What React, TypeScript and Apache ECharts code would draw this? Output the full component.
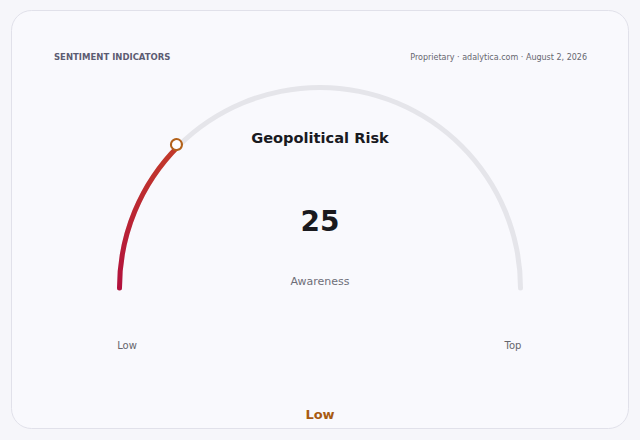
import React, { useEffect, useRef } from "react";
import * as echarts from "echarts";

const headerLeft = "SENTIMENT INDICATORS";
const headerRight = "Proprietary · adalytica.com · August 2, 2026";
const gaugeName = "Geopolitical Risk";
const gaugeValue = [25];
const gaugeMin = 0;
const gaugeMax = 100;
const endLabels = ["Low", "Top"];
const subLabel = "Awareness";
const levelLabel = "Low";

const FONT = "DejaVu Sans, sans-serif";

export default function App() {
  const ref = useRef<HTMLDivElement>(null);
  useEffect(() => {
    if (!ref.current) return;
    const chart = echarts.init(ref.current, undefined, { renderer: "svg" });
    const cx = 320;
    const cy = 288;
    const r = 203;
    const hidden = {
      axisLine: { show: false },
      axisTick: { show: false },
      splitLine: { show: false },
      axisLabel: { show: false },
      anchor: { show: false },
    };
    chart.setOption({
      animation: false,
      backgroundColor: "#f6f6fa",
      graphic: [
        {
          type: "rect",
          z: -10,
          shape: { x: 11.5, y: 10.5, width: 617, height: 418, r: 20 },
          style: { fill: "#f9f9fd", stroke: "#e1e1ea", lineWidth: 1 },
        },
        {
          type: "text",
          x: 54,
          y: 57,
          style: {
            text: headerLeft,
            font: `bold 8.5px ${FONT}`,
            fill: "#5c5c72",
            textVerticalAlign: "middle",
          },
        },
        {
          type: "text",
          x: 587,
          y: 57,
          style: {
            text: headerRight,
            font: `8px ${FONT}`,
            fill: "#66666f",
            textAlign: "right",
            textVerticalAlign: "middle",
          },
        },
        {
          type: "text",
          x: cx,
          y: 281,
          style: {
            text: subLabel,
            font: `11px ${FONT}`,
            fill: "#6e6e78",
            textAlign: "center",
            textVerticalAlign: "middle",
          },
        },
        {
          type: "text",
          x: 127,
          y: 345,
          style: {
            text: endLabels[0],
            font: `10px ${FONT}`,
            fill: "#66666c",
            textAlign: "center",
            textVerticalAlign: "middle",
          },
        },
        {
          type: "text",
          x: 513,
          y: 345,
          style: {
            text: endLabels[1],
            font: `10px ${FONT}`,
            fill: "#66666c",
            textAlign: "center",
            textVerticalAlign: "middle",
          },
        },
        {
          type: "text",
          x: cx,
          y: 414,
          style: {
            text: levelLabel,
            font: `bold 13px ${FONT}`,
            fill: "#a85b12",
            textAlign: "center",
            textVerticalAlign: "middle",
          },
        },
      ],
      series: [
        {
          type: "gauge",
          z: 2,
          center: [cx, cy],
          radius: r,
          startAngle: 180,
          endAngle: 0,
          min: gaugeMin,
          max: gaugeMax,
          axisLine: {
            roundCap: true,
            lineStyle: { width: 5, color: [[1, "#e5e5ea"]] },
          },
          progress: {
            show: true,
            width: 5,
            roundCap: true,
            itemStyle: {
              color: new echarts.graphic.LinearGradient(
                0, cy, 0, 145,
                [
                  { offset: 0, color: "#b2113d" },
                  { offset: 1, color: "#c33a2a" },
                ],
                true
              ),
            },
          },
          pointer: { show: false },
          anchor: { show: false },
          axisTick: { show: false },
          splitLine: { show: false },
          axisLabel: { show: false },
          title: {
            show: true,
            offsetCenter: [0, 137 - cy],
            fontFamily: FONT,
            fontSize: 14.6,
            fontWeight: "bold",
            color: "#1a1a1f",
          },
          detail: {
            show: true,
            offsetCenter: [0, 221 - cy],
            fontFamily: FONT,
            fontSize: 28,
            fontWeight: "bold",
            color: "#1a1a1f",
            formatter: "{value}",
          },
          data: [{ name: gaugeName, value: gaugeValue[0] }],
        },
        {
          type: "gauge",
          z: 5,
          center: [cx, cy],
          radius: r,
          startAngle: 180,
          endAngle: 0,
          min: gaugeMin,
          max: gaugeMax,
          ...hidden,
          progress: { show: false },
          pointer: {
            show: true,
            icon: "circle",
            width: 11,
            length: 11,
            offsetCenter: [0, -(r - 5.5)],
            itemStyle: { color: "#ffffff", borderColor: "#b3621a", borderWidth: 2 },
          },
          title: { show: false },
          detail: { show: false },
          data: [{ name: gaugeName, value: gaugeValue[0] }],
        },
      ],
    });
    return () => chart.dispose();
  }, []);
  return (
    <div
      ref={ref}
      style={{ position: "fixed", left: 0, top: 0, width: 640, height: 440 }}
    />
  );
}
